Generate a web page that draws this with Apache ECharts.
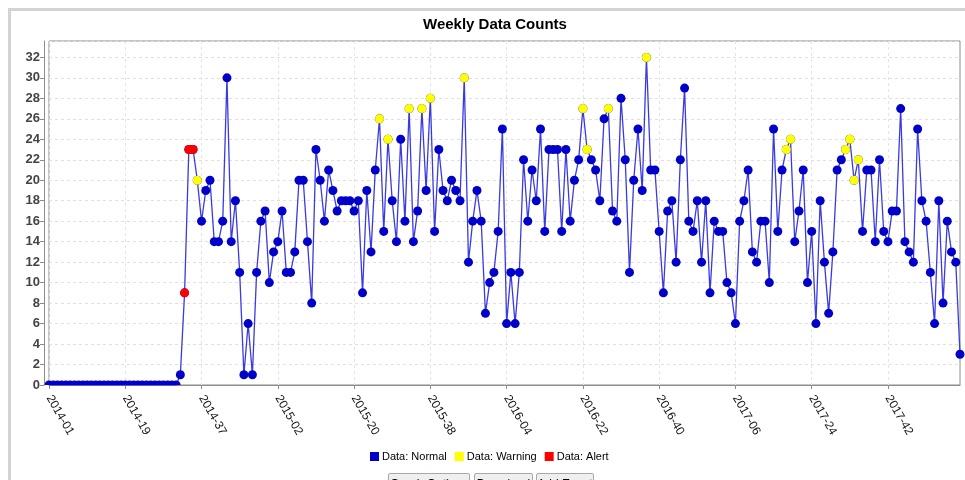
<!DOCTYPE html>
<html>
<head>
<meta charset="utf-8">
<script src="https://cdn.jsdelivr.net/npm/echarts@6/dist/echarts.min.js"></script>
<style>
  html, body { margin: 0; padding: 0; background: #fff; overflow: hidden; }
  #frame { position: absolute; left: 8px; top: 8px; width: 960px; height: 480px;
           border-left: 3px solid #d3d3d3; border-top: 3px solid #d3d3d3; }
  #chart { position: absolute; left: 0; top: 0; width: 965px; height: 480px; }
  .btn { position: absolute; top: 473px; height: 20px; box-sizing: border-box;
         border: 1px solid #a8a8a8; border-radius: 2px; background: #efefef;
         font: 12px "Liberation Sans", Arial, sans-serif; color: #000;
         padding: 3px 0 0 0; text-align: center; white-space: nowrap; overflow: hidden; }
</style>
</head>
<body>
<div id="frame"></div>
<div id="chart"></div>
<div class="btn" style="left:388px;width:82px;">Graph Options</div>
<div class="btn" style="left:474px;width:59px;">Download</div>
<div class="btn" style="left:536px;width:58px;">Add Event</div>
<script>
// ---- data ----
const years = [2014, 2015, 2016, 2017, 2018];
const weeksInYear = [53, 52, 52, 52, 7];

const counts = [
  0,0,0,0,0,0,0,0,0,0,0,0,0,0,0,0,0,0,0,0,0,0,0,0,0,0,0,0,0,0,0,
  1,9,23,23,20,16,19,20,14,14,16,30,14,18,11,1,6,1,11,16,17,10,13,14,17,11,11,13,20,20,14,8,23,20,16,21,
  19,17,18,18,18,17,18,9,19,13,21,26,15,24,18,14,24,16,27,14,17,27,19,28,15,23,19,18,20,19,18,30,12,16,19,16,7,10,
  11,15,25,6,11,6,11,22,16,21,18,25,15,23,23,23,15,23,16,20,22,27,23,22,21,18,26,27,17,16,28,22,11,20,25,19,32,21,
  21,15,9,17,18,12,22,29,16,15,18,12,18,9,16,15,15,10,9,6,16,18,21,13,12,16,16,10,25,15,21,23,24,14,17,21,10,15,
  6,18,12,7,13,21,22,23,24,20,22,15,21,21,14,22,15,14,17,17,27,14,13,12,25,18,16,11,6,18,8,16,13,12,3
];
const warningIdx = [35,78,80,85,88,90,98,126,127,132,141,174,175,188,189,190,191];
const alertIdx = [32,33,34];

const yTicks = { min: 0, max: 33.6, interval: 2 };

// ---- build categories ----
const weeks = [];
years.forEach((y, k) => {
  for (let w = 1; w <= weeksInYear[k]; w++) weeks.push(y + '-' + (w < 10 ? '0' + w : '' + w));
});

// points sitting on the bottom edge are clipped to their upper half, as in the reference
const HALF = 'path://M0,10 A10,10 0 0 1 20,10 Z';
const lineData = counts.map(v => v === 0
  ? { value: v, symbol: HALF, symbolSize: [9, 4.5], symbolOffset: [0, -2.25] }
  : v);
const warnData = warningIdx.map(i => [i, counts[i]]);
const alertData = alertIdx.map(i => [i, counts[i]]);

const chart = echarts.init(document.getElementById('chart'), null, { renderer: 'canvas' });
const FONT = '"Liberation Sans", Arial, sans-serif';

chart.setOption({
  animation: false,
  backgroundColor: 'transparent',
  title: {
    text: 'Weekly Data Counts',
    left: 418, top: 12,
    textStyle: { fontFamily: FONT, fontSize: 15, fontWeight: 'bold', color: '#000' }
  },
  legend: {
    left: 365, top: 446,
    itemWidth: 9, itemHeight: 9, itemGap: 8,
    icon: 'rect',
    textStyle: { fontFamily: FONT, fontSize: 11, color: '#000', padding: [0, 0, 0, -2] },
    data: ['Data: Normal', 'Data: Warning', 'Data: Alert']
  },
  grid: {
    left: 49, right: 5, top: 41, bottom: 95,
    show: true, borderColor: '#8c8c8c', borderWidth: 1, backgroundColor: '#fff',
    containLabel: false
  },
  xAxis: {
    type: 'category',
    data: weeks,
    boundaryGap: false,
    offset: 5,
    axisLine: { show: true, lineStyle: { color: '#8c8c8c', width: 1 } },
    axisTick: { show: true, interval: 17, length: 4, lineStyle: { color: '#8c8c8c' } },
    axisLabel: {
      interval: 17, rotate: -60, margin: 6,
      fontFamily: FONT, fontSize: 12, color: '#111'
    },
    splitLine: { show: true, interval: 17, lineStyle: { color: '#e4e4e4', type: [3, 3], width: 1 } }
  },
  yAxis: {
    type: 'value',
    min: yTicks.min, max: yTicks.max, interval: yTicks.interval,
    offset: 5,
    axisLine: { show: true, lineStyle: { color: '#8c8c8c', width: 1 } },
    axisTick: { show: true, length: 4, lineStyle: { color: '#8c8c8c' } },
    axisLabel: {
      showMaxLabel: false, margin: 4,
      fontFamily: FONT, fontSize: 13, fontWeight: 'bold', color: '#444'
    },
    splitLine: { show: true, lineStyle: { color: '#e0e0e0', type: [3, 3], width: 1 } }
  },
  series: [
    {
      name: 'Data: Normal',
      type: 'line',
      data: lineData,
      symbol: 'circle',
      symbolSize: 9,
      showAllSymbol: true,
      clip: true,
      itemStyle: { color: '#0000c8', opacity: 1 },
      lineStyle: { color: '#3a3ae0', width: 1.3 },
      z: 2
    },
    {
      name: 'Data: Warning',
      type: 'scatter',
      data: warnData,
      symbol: 'circle',
      symbolSize: 9,
      itemStyle: { color: '#ffff00', opacity: 1 },
      z: 3
    },
    {
      name: 'Data: Alert',
      type: 'scatter',
      data: alertData,
      symbol: 'circle',
      symbolSize: 9,
      itemStyle: { color: '#ff0000', opacity: 1 },
      z: 4
    }
  ]
});
</script>
</body>
</html>
